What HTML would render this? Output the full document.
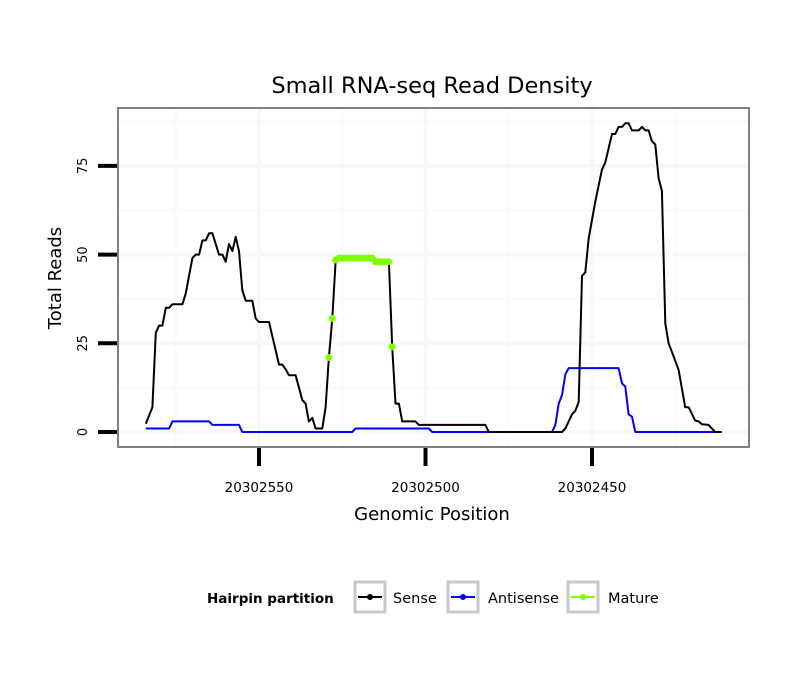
<!DOCTYPE html>
<html><head><meta charset="utf-8"><style>
body{margin:0;background:#fff;font-family:"DejaVu Sans",sans-serif}
svg{display:block}
</style></head><body>
<svg id="chart" width="810" height="690" xmlns="http://www.w3.org/2000/svg" font-family="DejaVu Sans, sans-serif">
<rect width="810" height="690" fill="#fff"/>
<g id="grid"></g>
<g id="series"></g>
<rect x="118" y="108" width="631" height="339" fill="none" stroke="#808080" stroke-width="2"/>
<g id="axes"></g>
<text x="432" y="93" text-anchor="middle" font-size="22.5">Small RNA-seq Read Density</text>
<text x="432" y="520" text-anchor="middle" font-size="18">Genomic Position</text>
<text transform="translate(61,278) rotate(-90)" text-anchor="middle" font-size="18">Total Reads</text>
<g>
<text x="207" y="603" font-size="13.5" font-weight="bold">Hairpin partition</text>
<g>
<rect x="355" y="582" width="30" height="30" fill="#fff" stroke="#c8c8c8" stroke-width="3"/>
<line x1="358" y1="597" x2="382" y2="597" stroke="#000" stroke-width="2"/><circle cx="370" cy="597" r="3" fill="#000"/>
<text x="393" y="603" font-size="14.5">Sense</text></g>
<g>
<rect x="448" y="582" width="30" height="30" fill="#fff" stroke="#c8c8c8" stroke-width="3"/>
<line x1="451" y1="597" x2="475" y2="597" stroke="#0000ff" stroke-width="2"/><circle cx="463" cy="597" r="3" fill="#0000ff"/>
<text x="488" y="603" font-size="14.5">Antisense</text></g>
<g>
<rect x="568" y="582" width="30" height="30" fill="#fff" stroke="#c8c8c8" stroke-width="3"/>
<line x1="571" y1="597" x2="595" y2="597" stroke="#7fff00" stroke-width="2"/><circle cx="583" cy="597" r="3" fill="#7fff00"/>
<text x="608" y="603" font-size="14.5">Mature</text></g>
</g>
</svg>
<script>
const sensePos=[20302584,582,581,580,579,578,577,576,573,572,570,569,568,567,566,565,564,562,561,560,559,558,557,556,555,554,552,551,550,547,544,543,542,541,539,537,536,535,534,533,531,530,529,528,527,526,516,515,511,510,509,508,507,503,502,482,481,459,458,456,455,454,453,452,451,449,447,446,444,443,442,441,440,439,438,436,435,434,433,432,431,430,429,428,427,426,424,422,421,419,418,417,415,413,411].map((v,i)=>i===0?v:20302000+v);
const senseVal=[2.3,7,28,30,30,35,35,36,36,39,49,50,50,54,54,56,56,50,50,48,53,51,55,51,40,37,37,32,31,31,19,19,17.7,16,16,9,8,3,4,1,1,7,21,32,48,49,49,48,48,24,8,8,3,3,2,2,0,0,1,5,6,8.5,44,45,54.6,65,74,76,84,84,86,86,87,87,85,85,86,85,85,82,81,71.5,68,30.6,25,22.6,17.5,7,7,3.2,3,2.2,2,0,0];
const antiPos=[584,577,576,565,564,556,555,522,521,499,498,462,461,460,459,458,457,442,441,440,439,438,437,413].map(v=>20302000+v);
const antiVal=[1,1,3,3,2,2,0,0,1,1,0,0,2,8,10.4,16.3,18,18,13.7,12.8,5,4.3,0,0];
const maturePos=[529,528,527,526,525,524,523,522,521,520,519,518,517,516,515,514,513,512,511,510].map(v=>20302000+v);
const matureVal=[21,32,48.5,49,49,49,49,49,49,49,49,49,49,49,48,48,48,48,48,24];
const yTicks=[0,25,50,75];
const xTicks=[20302550,20302500,20302450];

const NS='http://www.w3.org/2000/svg';
const X=p=>259-(p-20302550)*3.33;
const Y=v=>432-v*3.548;
function mk(tag,parent,attrs){const e=document.createElementNS(NS,tag);for(const k in attrs)e.setAttribute(k,attrs[k]);parent.appendChild(e);return e;}
const grid=document.getElementById('grid'),ser=document.getElementById('series'),axes=document.getElementById('axes');
[12.5,37.5,62.5,87.5].forEach(v=>{const l=mk('line',grid,{x1:119,x2:748,y1:Y(v),y2:Y(v),stroke:'#fbfbfb','stroke-width':3});

});
[20302575,20302525,20302475,20302425].forEach(p=>{const l=mk('line',grid,{x1:X(p),x2:X(p),y1:109,y2:446,stroke:'#fbfbfb','stroke-width':3});

});
yTicks.forEach(v=>{const l=mk('line',grid,{x1:119,x2:748,y1:Y(v),y2:Y(v),stroke:'#f8f8f8','stroke-width':4});


const t=mk('line',axes,{x1:98,x2:117,y1:Y(v),y2:Y(v),stroke:'#000','stroke-width':4});


const tx=mk('text',axes,{transform:`translate(87,${Y(v)}) rotate(-90)`,'text-anchor':'middle','font-size':13});


tx.textContent=v;});
xTicks.forEach(p=>{const l=mk('line',grid,{x1:X(p),x2:X(p),y1:109,y2:446,stroke:'#f8f8f8','stroke-width':4});


const t=mk('line',axes,{x1:X(p),x2:X(p),y1:448,y2:466,stroke:'#000','stroke-width':4});


const tx=mk('text',axes,{x:X(p),y:492,'text-anchor':'middle','font-size':13.5});


tx.textContent=p;});
function line(pos,val,color,name){const d=pos.map((p,i)=>(i?'L':'M')+X(p).toFixed(1)+','+Y(val[i]).toFixed(1)).join('');
const e=mk('path',ser,{d:d,fill:'none',stroke:color,'stroke-width':2,'stroke-linejoin':'round'});

}
line(antiPos,antiVal,'#0000ff','antisense-line');
line(sensePos,senseVal,'#000','sense-line');
maturePos.forEach((p,i)=>{const c=mk('circle',ser,{cx:X(p),cy:Y(matureVal[i]),r:3.5,fill:'#7fff00'});

});
</script>
</body></html>
